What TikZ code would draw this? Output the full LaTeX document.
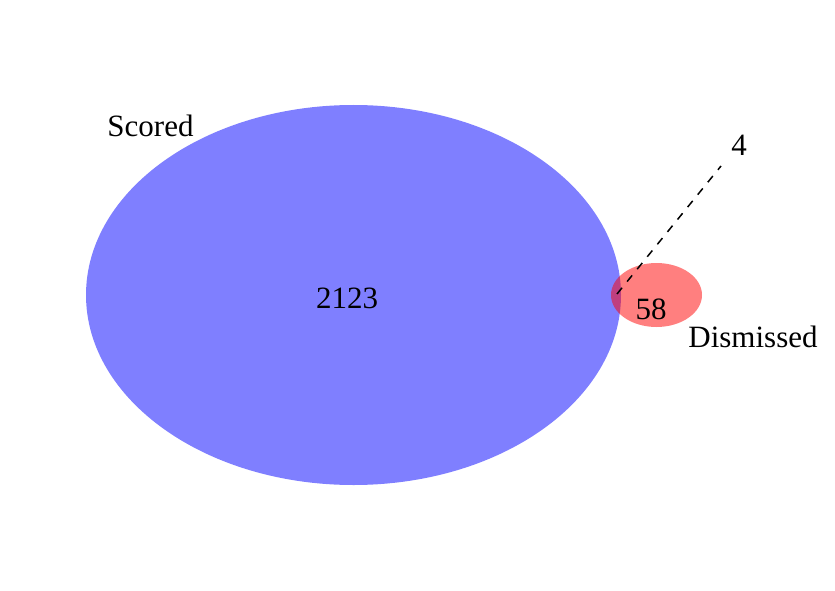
\documentclass[tikz,border=0pt]{standalone}
\usepackage{fontspec}
\setmainfont{Liberation Serif}
\usepackage{tikz}
\usetikzlibrary{calc}

\begin{document}
\begin{tikzpicture}[x=1pt,y=-1pt,font=\fontsize{31}{36}\selectfont,
                    setfill/.style={opacity=0.5},
                    lbl/.style={anchor=base,inner sep=0pt}]
\useasboundingbox (0,0) rectangle (835,591);
\fill[blue,setfill] (353.5,295) ellipse [x radius=267.5,y radius=190];
\fill[red,setfill] (656.5,295) ellipse [x radius=45.5,y radius=32];
\node[lbl] (scored) at (150.5,136) {Scored};
\node[lbl] (dismissed) at (753,347) {Dismissed};
\node[lbl] (nscored) at (347,308) {2123};
\node[lbl] (ndismissed) at (651,319) {58};
\node[lbl] (nboth) at (739,156) {4};
\coordinate (both) at (617,294);
\coordinate (lead) at (721,166);
\draw[line width=1.5pt,dash pattern=on 8pt off 8pt] (both) -- (lead);
\end{tikzpicture}
\end{document}
